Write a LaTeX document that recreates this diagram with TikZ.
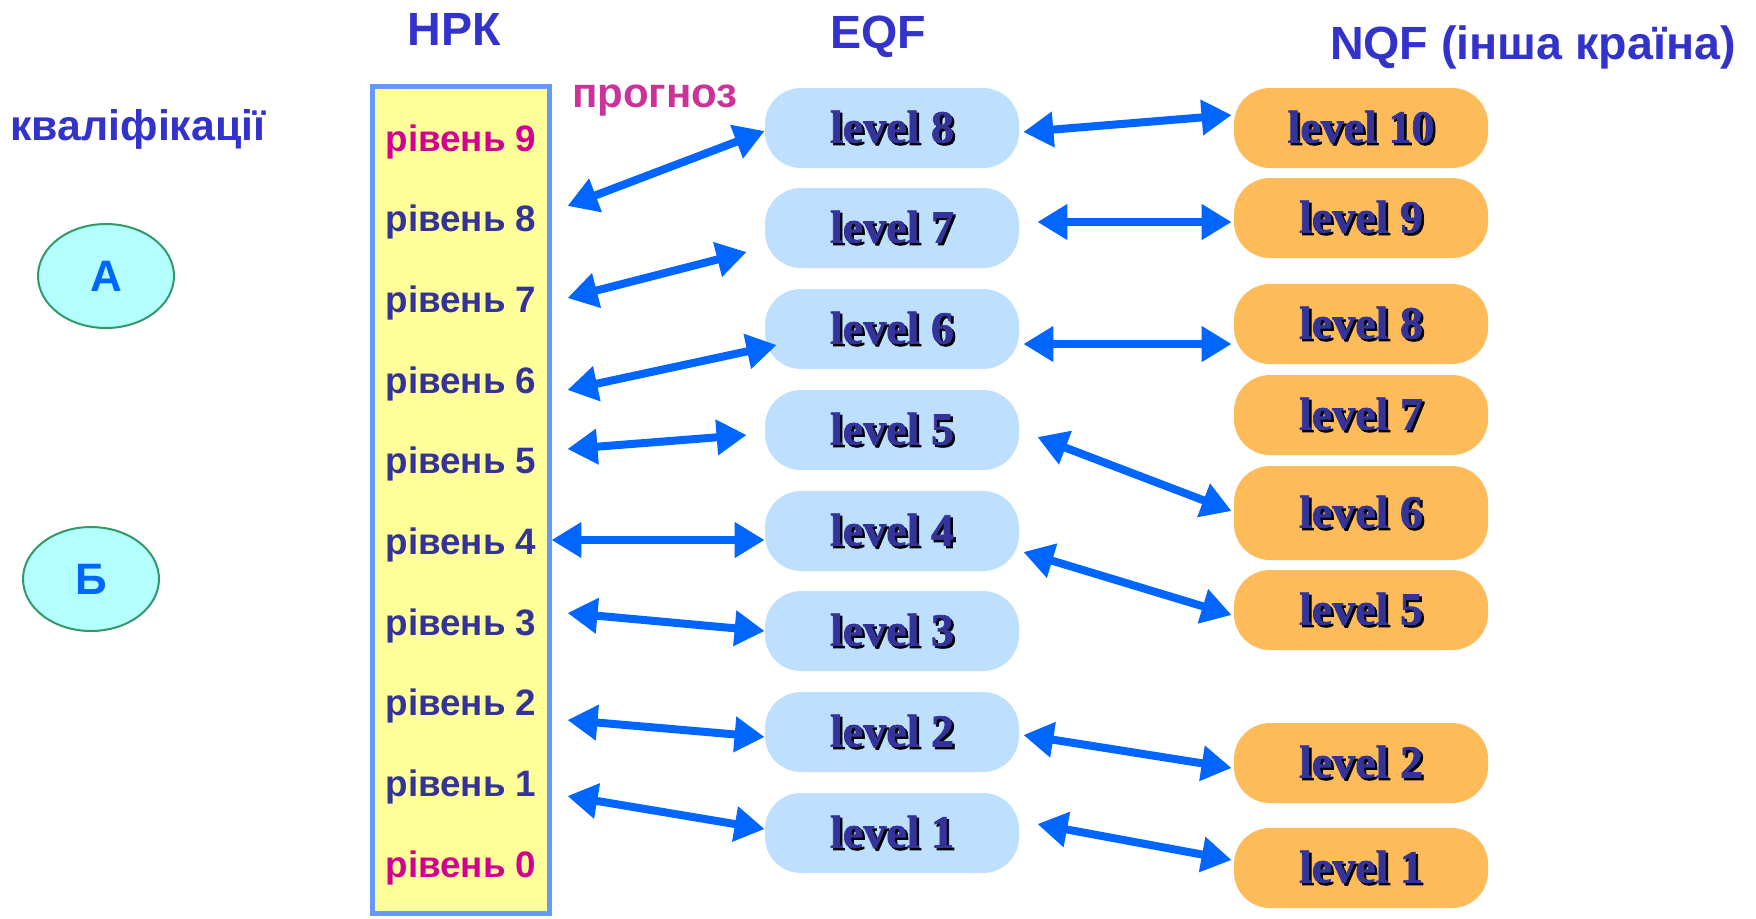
\documentclass[tikz,border=0pt]{standalone}
\usepackage{fontspec}
\setmainfont{Liberation Sans}
\newfontfamily\levelfont[FakeBold=1.5]{Liberation Serif}
\usetikzlibrary{arrows.meta}
\usetikzlibrary{shapes.geometric}

\definecolor{headblue}{HTML}{3333CC}
\definecolor{rivdark}{HTML}{333399}
\definecolor{rivpink}{HTML}{D10090}
\definecolor{progpink}{HTML}{CC3399}
\definecolor{scalefill}{HTML}{FFFF99}
\definecolor{scaleline}{HTML}{6699FF}
\definecolor{eqffill}{HTML}{BFDFFF}
\definecolor{nqffill}{HTML}{FDBB5A}
\definecolor{arrowblue}{HTML}{0066FF}
\definecolor{ovalfill}{HTML}{B3FFFF}
\definecolor{ovalline}{HTML}{339966}

\newcommand{\shadowtext}[1]{\makebox[0pt][l]{\hspace{1.2pt}\raisebox{-1.2pt}{\color{black}#1}}#1}

\begin{document}
\begin{tikzpicture}[x = 0.5pt, y = -0.5pt,
  title/.style = {font = \bfseries\fontsize{23.3pt}{24pt}\selectfont, text = headblue},
  riv/.style = {font = \bfseries\fontsize{18.4pt}{20pt}\selectfont, text = rivdark},
  lev/.style = {rounded corners = 18pt, minimum width = 127pt, minimum height = 40pt,
    font = \levelfont\bfseries\fontsize{23pt}{24pt}\selectfont, text = rivdark},
  eqfbox/.style = {lev, fill = eqffill},
  nqfbox/.style = {lev, fill = nqffill},
  oval/.style = {ellipse, draw = ovalline, line width = 1pt, fill = ovalfill,
    minimum width = 68pt, minimum height = 52pt,
    font = \bfseries\fontsize{22pt}{24pt}\selectfont, text = arrowblue},
  both/.style = {{Triangle[length = 15pt, width = 17pt]}-{Triangle[length = 15pt, width = 17pt]},
    line width = 4pt, arrowblue}]
  \useasboundingbox (0, 0) rectangle (1756, 918);

  \node[title] (nrk) at (454, 29) {НРК};
  \node[title] (eqf) at (878, 37) {EQF};
  \node[title] (nqf) at (1533, 47) {NQF (інша країна)};
  \node[title, font = \bfseries\fontsize{21.4pt}{24pt}\selectfont] (kval) at (138, 129) {кваліфікації};
  \node[title, text = progpink, font = \bfseries\fontsize{21pt}{24pt}\selectfont] (prog) at (655, 101) {прогноз};

  \node[oval] (A) at (106, 276) {А};
  \node[oval] (B) at (91, 579) {Б};

  % national scale
  \node[draw = scaleline, line width = 2.5pt, fill = scalefill,
    minimum width = 88.5pt, minimum height = 413.5pt] (scale) at (461, 500) {};
  \node[riv, text = rivpink] (r9) at (461, 142) {рівень 9};
  \node[riv] (r8) at (461, 222) {рівень 8};
  \node[riv] (r7) at (461, 303) {рівень 7};
  \node[riv] (r6) at (461, 384) {рівень 6};
  \node[riv] (r5) at (461, 464) {рівень 5};
  \node[riv] (r4) at (461, 545) {рівень 4};
  \node[riv] (r3) at (461, 626) {рівень 3};
  \node[riv] (r2) at (461, 706) {рівень 2};
  \node[riv] (r1) at (461, 787) {рівень 1};
  \node[riv, text = rivpink] (r0) at (461, 868) {рівень 0};

  % EQF
  \node[eqfbox] (e8) at (892, 128) {\shadowtext{level 8}};
  \node[eqfbox] (e7) at (892, 228) {\shadowtext{level 7}};
  \node[eqfbox] (e6) at (892, 329) {\shadowtext{level 6}};
  \node[eqfbox] (e5) at (892, 430) {\shadowtext{level 5}};
  \node[eqfbox] (e4) at (892, 531) {\shadowtext{level 4}};
  \node[eqfbox] (e3) at (892, 631) {\shadowtext{level 3}};
  \node[eqfbox] (e2) at (892, 732) {\shadowtext{level 2}};
  \node[eqfbox] (e1) at (892, 833) {\shadowtext{level 1}};

  % other country
  \node[nqfbox] (n10) at (1361, 128) {\shadowtext{level 10}};
  \node[nqfbox] (n9) at (1361, 218) {\shadowtext{level 9}};
  \node[nqfbox] (n8) at (1361, 324) {\shadowtext{level 8}};
  \node[nqfbox] (n7) at (1361, 415) {\shadowtext{level 7}};
  \node[nqfbox, minimum height = 47pt] (n6) at (1361, 513) {\shadowtext{level 6}};
  \node[nqfbox] (n5) at (1361, 610) {\shadowtext{level 5}};
  \node[nqfbox] (n2) at (1361, 763) {\shadowtext{level 2}};
  \node[nqfbox] (n1) at (1361, 868) {\shadowtext{level 1}};

  \draw[both] ([shift = {(24, -16)}]r8.east) -- ([shift = {(0, 3)}]e8.west);
  \draw[both] ([shift = {(24, -5)}]r7.east) -- ([shift = {(-18, 24)}]e7.west);
  \draw[both] ([shift = {(24, 6)}]r6.east) -- ([shift = {(12, 16)}]e6.west);
  \draw[both] ([shift = {(24, -15)}]r5.east) -- ([shift = {(-18, 5)}]e5.west);
  \draw[both] ([shift = {(8, -5)}]r4.east) -- ([shift = {(0, 9)}]e4.west);
  \draw[both] ([shift = {(24, -13)}]r3.east) -- ([shift = {(0, 0)}]e3.west);
  \draw[both] ([shift = {(24, 14)}]r2.east) -- ([shift = {(0, 5)}]e2.west);
  \draw[both] ([shift = {(24, 9)}]r1.east) -- ([shift = {(0, -4)}]e1.west);

  \draw[both] ([shift = {(4, 4)}]e8.east) -- ([shift = {(-2, -13)}]n10.west);
  \draw[both] ([shift = {(18, -6)}]e7.east) -- ([shift = {(-2, 4)}]n9.west);
  \draw[both] ([shift = {(4, 15)}]e6.east) -- ([shift = {(-2, 20)}]n8.west);
  \draw[both] ([shift = {(18, 7)}]e5.east) -- ([shift = {(-2, -2)}]n6.west);
  \draw[both] ([shift = {(4, 21)}]e4.east) -- ([shift = {(-2, 5)}]n5.west);
  \draw[both] ([shift = {(4, 3)}]e2.east) -- ([shift = {(-2, 5)}]n2.west);
  \draw[both] ([shift = {(18, -9)}]e1.east) -- ([shift = {(-2, -8)}]n1.west);
\end{tikzpicture}
\end{document}
